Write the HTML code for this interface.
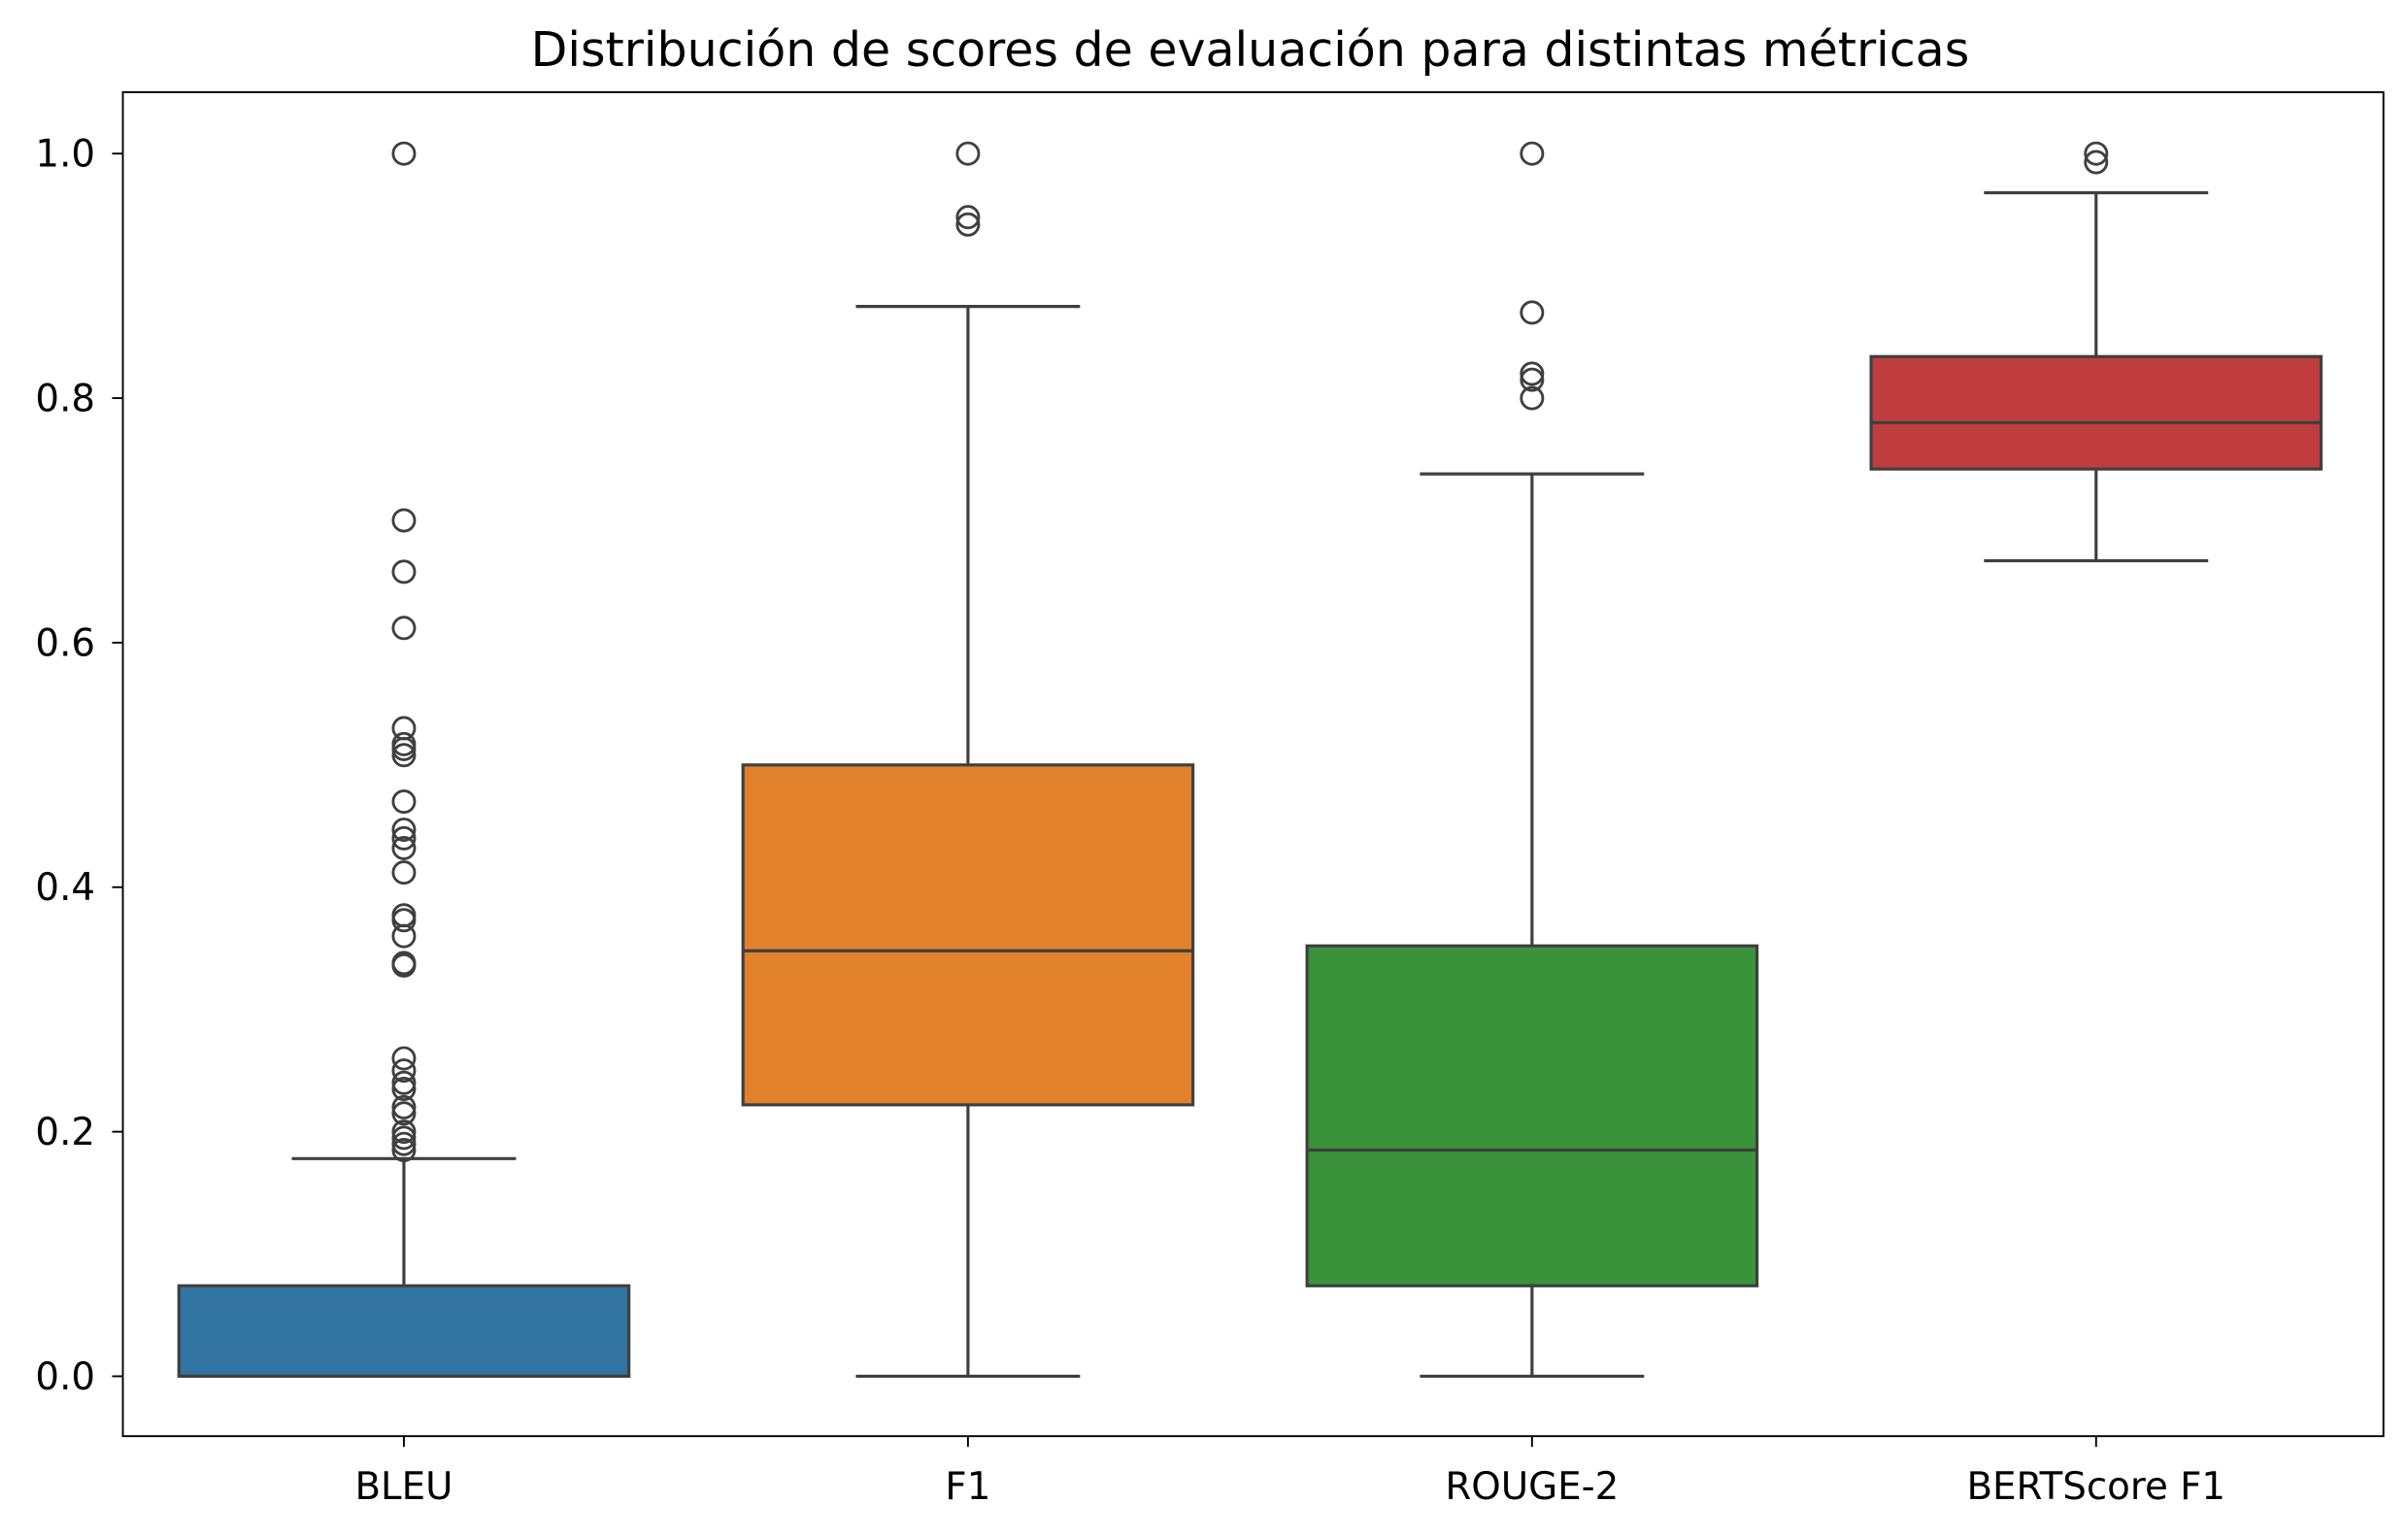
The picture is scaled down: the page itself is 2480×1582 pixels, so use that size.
<!DOCTYPE html>
<html><head><meta charset="utf-8"><style>
html,body{margin:0;padding:0;background:#fff;}
svg{display:block;}
text{font-family:"DejaVu Sans","Liberation Sans",sans-serif;fill:#000;}
</style></head>
<body>
<svg id="chart" width="2480" height="1582" viewBox="0 0 1568 1000" preserveAspectRatio="none" xmlns="http://www.w3.org/2000/svg">
<rect x="0" y="0" width="1568" height="1000" fill="#fff"/>
<text x="814" y="43" font-size="31" text-anchor="middle">Distribución de scores de evaluación para distintas métricas</text>
<g id="marks"></g>
<rect x="80" y="60" width="1472" height="875" fill="none" stroke="#000" stroke-width="1.2"/>
</svg>
<script>
const categories = ["BLEU","F1","ROUGE-2","BERTScore F1"];
const colors = ["#3274a1","#e1812c","#3a923a","#c03d3e"];
const q1 = [0, 0.222, 0.074, 0.742];
const medians = [0, 0.348, 0.185, 0.780];
const q3 = [0.074, 0.500, 0.352, 0.834];
const whiskerLow = [0, 0, 0, 0.667];
const whiskerHigh = [0.178, 0.875, 0.738, 0.968];
const outliers = [
  [1.0,0.70,0.658,0.612,0.53,0.517,0.513,0.508,0.47,0.447,0.44,0.432,0.412,0.377,0.373,0.36,0.338,0.336,0.26,0.25,0.24,0.235,0.22,0.215,0.2,0.195,0.19,0.185],
  [1.0,0.948,0.942],
  [1.0,0.87,0.82,0.815,0.80],
  [1.0,0.993]
];
const yTicks = [0,0.2,0.4,0.6,0.8,1.0];
const yTickLabels = ["0.0","0.2","0.4","0.6","0.8","1.0"];

const NS="http://www.w3.org/2000/svg";
const g=document.getElementById('marks');
const y = v => 896 - v*796;
const x = i => 263 + i*367.3;
const BW = 293, CW = 146;
function el(tag, attrs){const e=document.createElementNS(NS,tag);for(const k in attrs)e.setAttribute(k,attrs[k]);g.appendChild(e);return e;}
const LC="#3f3f3f";

yTicks.forEach((t,i)=>{
  const l=el('line',{x1:73,x2:80,y1:y(t),y2:y(t),stroke:'#000','stroke-width':1.2});
  
  
  const tx=el('text',{x:62,y:y(t)+8.5,'font-size':24.5,'text-anchor':'end'});
  tx.textContent=yTickLabels[i];
  
  
});

categories.forEach((c,i)=>{
  const cx=x(i);
  const wl=el('line',{x1:cx,x2:cx,y1:y(whiskerLow[i]),y2:y(q1[i]),stroke:LC,'stroke-width':2});
  
  
  const wh=el('line',{x1:cx,x2:cx,y1:y(q3[i]),y2:y(whiskerHigh[i]),stroke:LC,'stroke-width':2});
  
  
  [whiskerLow[i],whiskerHigh[i]].forEach(v=>{
    const cap=el('line',{x1:cx-CW/2,x2:cx+CW/2,y1:y(v),y2:y(v),stroke:LC,'stroke-width':2});
    
    
  });
  const b=el('rect',{x:cx-BW/2,y:y(q3[i]),width:BW,height:Math.max(0,y(q1[i])-y(q3[i])),fill:colors[i],stroke:LC,'stroke-width':2});
  
  
  const m=el('line',{x1:cx-BW/2,x2:cx+BW/2,y1:y(medians[i]),y2:y(medians[i]),stroke:LC,'stroke-width':2});
  
  
  outliers[i].forEach(v=>{
    const o=el('circle',{cx:cx,cy:y(v),r:7,fill:'none',stroke:LC,'stroke-width':1.8});
    
    
  });
  const t=el('line',{x1:cx,x2:cx,y1:935,y2:942,stroke:'#000','stroke-width':1.2});
  
  
  const lab=el('text',{x:cx,y:976,'font-size':24.5,'text-anchor':'middle'});
  lab.textContent=c;
  
  
});
</script>
</body></html>
